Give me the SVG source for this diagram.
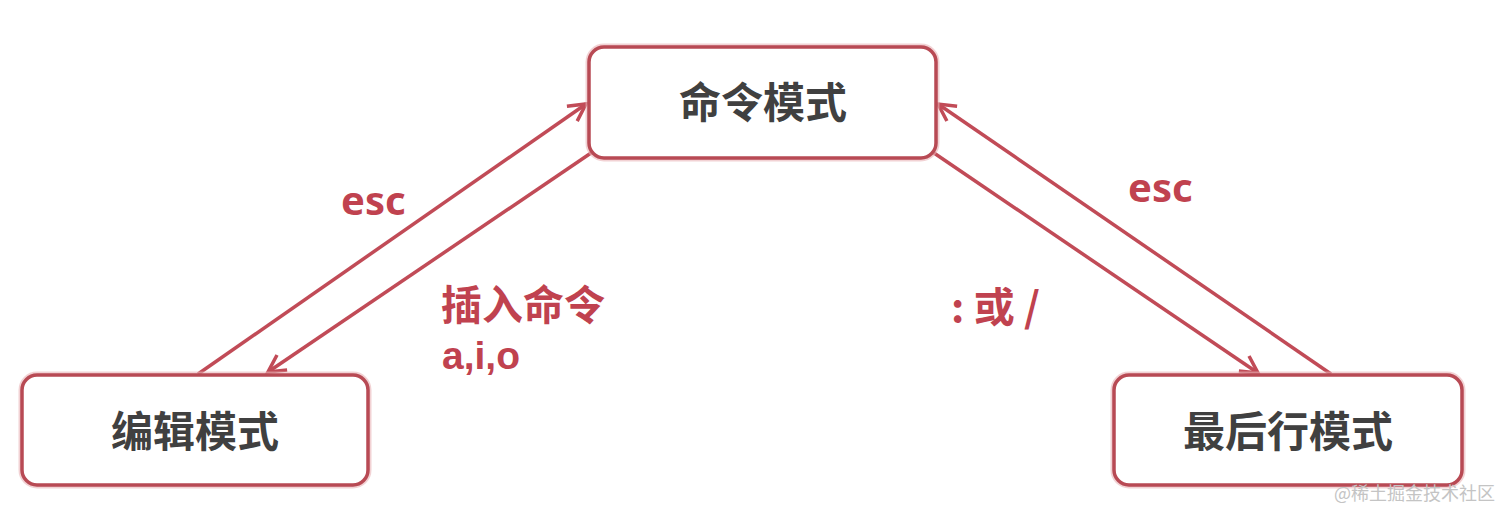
<svg xmlns="http://www.w3.org/2000/svg" width="1512" height="520" viewBox="0 0 1512 520">
  <defs>
    <style>
      .box { fill: #ffffff; stroke: #b84a54; stroke-width: 3.5; }
      .glow { fill: none; stroke: #e9b4b8; stroke-width: 7; opacity: 0.6; }
      .title { font-family: "Noto Sans CJK SC", "Noto Sans", sans-serif; font-weight: 700; font-size: 42px; fill: #404040; text-anchor: middle; }
      .lbl { font-family: "Noto Sans", "Noto Sans CJK SC", sans-serif; font-weight: 700; font-size: 40px; fill: #c0424f; }
      .lbl2 { font-family: "Liberation Sans", sans-serif; font-weight: 700; font-size: 39px; fill: #c0424f; }
      .lblcjk { font-family: "Noto Sans CJK SC", sans-serif; font-weight: 700; font-size: 41px; fill: #c0424f; }
      .conn { stroke: #c14b57; stroke-width: 3.5; fill: none; }
      .wm { font-family: "Noto Sans CJK SC", sans-serif; font-size: 18px; fill: #c4c4c4; }
    </style>
    <marker id="arr" markerUnits="userSpaceOnUse" markerWidth="30" markerHeight="30" refX="21" refY="11" viewBox="0 0 30 22" orient="auto">
      <path d="M4,2 L21,11 L4,20" fill="none" stroke="#c14b57" stroke-width="3.5" stroke-linejoin="miter"/>
    </marker>
  </defs>

  <rect width="1512" height="520" fill="#ffffff"/>

  <g id="connectors">
    <line class="conn" x1="198" y1="374" x2="586" y2="104" marker-end="url(#arr)"/>
    <line class="conn" x1="591" y1="153" x2="268" y2="372" marker-end="url(#arr)"/>
    <line class="conn" x1="1331" y1="374" x2="938" y2="104" marker-end="url(#arr)"/>
    <line class="conn" x1="934" y1="153" x2="1258" y2="373" marker-end="url(#arr)"/>
    <text class="lbl" x="341" y="215">esc</text>
    <text class="lbl" x="1128" y="202">esc</text>
    <text class="lblcjk" x="441" y="320">插入命令</text>
    <text class="lbl2" x="442" y="369">a,i,o</text>
    <text class="lblcjk" x="951" y="322">: 或 /</text>
  </g>

  <g id="node-command">
    <rect class="glow" x="589" y="47" width="347" height="111" rx="15"/>
    <rect class="box" x="589" y="47" width="347" height="111" rx="15"/>
    <text class="title" x="763" y="118">命令模式</text>
  </g>

  <g id="node-edit">
    <rect class="glow" x="22" y="375" width="346" height="110" rx="15"/>
    <rect class="box" x="22" y="375" width="346" height="110" rx="15"/>
    <text class="title" x="195" y="447">编辑模式</text>
  </g>

  <g id="node-lastline">
    <rect class="glow" x="1114" y="375" width="348" height="110" rx="15"/>
    <rect class="box" x="1114" y="375" width="348" height="110" rx="15"/>
    <text class="title" x="1288" y="447">最后行模式</text>
  </g>

  <text class="wm" x="1334" y="500">@稀土掘金技术社区</text>
</svg>
